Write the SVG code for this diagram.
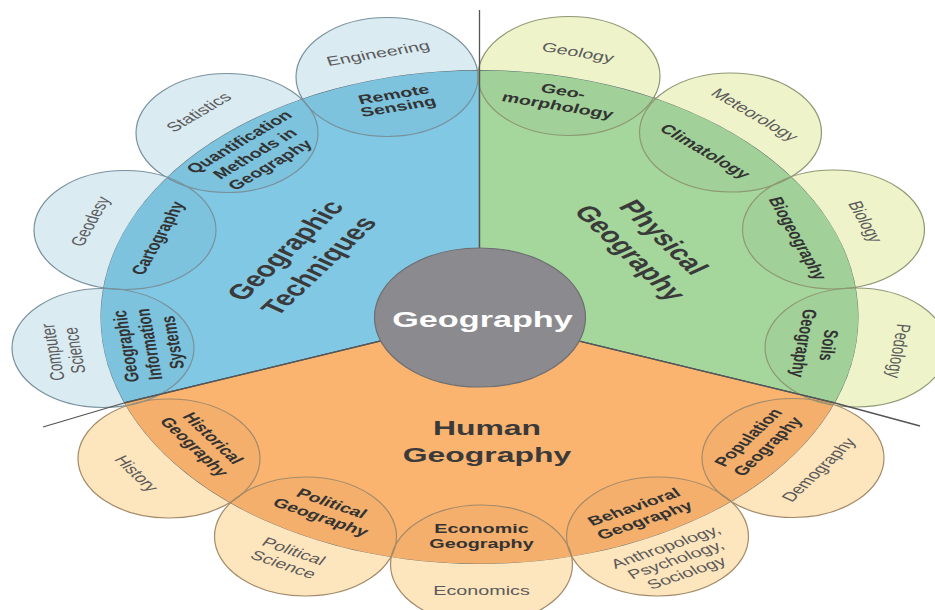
<svg xmlns="http://www.w3.org/2000/svg" width="935" height="610" viewBox="0 0 935 610">
<style>
text{font-family:"Liberation Sans",Arial,sans-serif;text-anchor:middle}
.b{font-size:13px;font-weight:bold;fill:#333}
.o{font-size:13px;fill:#5a5a5a}
.t{font-size:21px;font-weight:bold;fill:#3a3a3a}
.c{font-size:22.5px;font-weight:bold;fill:#fff}
.pb{fill:#dbebf2}.pg{fill:#eef3c9}.po{fill:#fde5bd}
.ov{fill:#000;fill-opacity:0.022}
.sb{fill:none;stroke:#78919c;stroke-width:1.2}
.sg{fill:none;stroke:#8e9873;stroke-width:1.2}
.so{fill:none;stroke:#a38b6a;stroke-width:1.2}
.div{stroke:#555;stroke-width:1.3;fill:none}
</style>
<defs>
<clipPath id="inside"><ellipse cx="479.5" cy="317" rx="379" ry="247"/></clipPath>
<mask id="outside" maskUnits="userSpaceOnUse" x="0" y="0" width="935" height="610">
<rect x="0" y="0" width="935" height="610" fill="#fff"/>
<ellipse cx="479.5" cy="317" rx="379" ry="247" fill="#000"/>
</mask>
</defs>
<rect width="935" height="610" fill="#fff"/>

<g id="sector-techniques">
<path d="M479.5,317 L479.5,70 A379,247 0 0,0 124,403 Z" fill="#81c8e4" stroke="#56666c" stroke-width="1.2"/>
<text class="t" transform="translate(304,259) scale(1.52,1) rotate(-55)"><tspan x="0" y="-8">Geographic</tspan><tspan x="0" y="19">Techniques</tspan></text>
</g>
<g id="sector-physical">
<path d="M479.5,317 L479.5,70 A379,247 0 0,1 835,403 Z" fill="#a5d79c" stroke="#56666c" stroke-width="1.2"/>
<text class="t" transform="translate(645,246) scale(1.52,1) rotate(55)"><tspan x="0" y="-8">Physical</tspan><tspan x="0" y="19">Geography</tspan></text>
</g>
<g id="sector-human">
<path d="M479.5,317 L124,403 A379,247 0 0,0 835,403 Z" fill="#fab46f" stroke="#56666c" stroke-width="1.2"/>
<text class="t" transform="translate(487,0) scale(1.52,1)"><tspan x="0" y="435">Human</tspan><tspan x="0" y="462">Geography</tspan></text>
</g>

<g id="n-remote-sensing">
<ellipse class="pb" cx="387" cy="77" rx="91" ry="59.5" mask="url(#outside)"/>
<ellipse class="ov" cx="387" cy="77" rx="91" ry="59.5" clip-path="url(#inside)"/>
<ellipse class="sb" cx="387" cy="77" rx="91" ry="59.5"/>
<g transform="translate(387,77) scale(1.52,1) rotate(-14)">
<text class="o" y="-20">Engineering</text>
<text class="b"><tspan x="0" y="22.5">Remote</tspan><tspan x="0" y="35">Sensing</tspan></text>
</g>
</g>
<g id="n-quantification">
<ellipse class="pb" cx="227" cy="133" rx="91" ry="59.5" mask="url(#outside)"/>
<ellipse class="ov" cx="227" cy="133" rx="91" ry="59.5" clip-path="url(#inside)"/>
<ellipse class="sb" cx="227" cy="133" rx="91" ry="59.5"/>
<g transform="translate(227,133) scale(1.52,1) rotate(-41.7)">
<text class="o" y="-23.5">Statistics</text>
<text class="b"><tspan x="0" y="16.5">Quantification</tspan><tspan x="0" y="32">Methods in</tspan><tspan x="0" y="47">Geography</tspan></text>
</g>
</g>
<g id="n-cartography">
<ellipse class="pb" cx="125" cy="230" rx="91" ry="59.5" mask="url(#outside)"/>
<ellipse class="ov" cx="125" cy="230" rx="91" ry="59.5" clip-path="url(#inside)"/>
<ellipse class="sb" cx="125" cy="230" rx="91" ry="59.5"/>
<g transform="translate(125,230) scale(1.52,1) rotate(-69.4)">
<text class="o" y="-20">Geodesy</text>
<text class="b" y="27.5">Cartography</text>
</g>
</g>
<g id="n-gis">
<ellipse class="pb" cx="103" cy="348" rx="91" ry="59.5" mask="url(#outside)"/>
<ellipse class="ov" cx="103" cy="348" rx="91" ry="59.5" clip-path="url(#inside)"/>
<ellipse class="sb" cx="103" cy="348" rx="91" ry="59.5"/>
<g transform="translate(103,348) scale(1.52,1) rotate(-97.1)">
<text class="o"><tspan x="0" y="-29">Computer</tspan><tspan x="0" y="-14.5">Science</tspan></text>
<text class="b"><tspan x="0" y="19.5">Geographic</tspan><tspan x="0" y="35">Information</tspan><tspan x="0" y="50.5">Systems</tspan></text>
</g>
</g>

<g id="n-geomorphology">
<ellipse class="pg" cx="569" cy="76" rx="91" ry="59.5" mask="url(#outside)"/>
<ellipse class="ov" cx="569" cy="76" rx="91" ry="59.5" clip-path="url(#inside)"/>
<ellipse class="sg" cx="569" cy="76" rx="91" ry="59.5"/>
<g transform="translate(569,76) scale(1.52,1) rotate(14)">
<text class="o" y="-20">Geology</text>
<text class="b"><tspan x="0" y="20">Geo-</tspan><tspan x="0" y="35">morphology</tspan></text>
</g>
</g>
<g id="n-climatology">
<ellipse class="pg" cx="730.5" cy="132.5" rx="91" ry="59.5" mask="url(#outside)"/>
<ellipse class="ov" cx="730.5" cy="132.5" rx="91" ry="59.5" clip-path="url(#inside)"/>
<ellipse class="sg" cx="730.5" cy="132.5" rx="91" ry="59.5"/>
<g transform="translate(730.5,132.5) scale(1.52,1) rotate(41.7)">
<text class="o" y="-19.5">Meteorology</text>
<text class="b" y="29.5">Climatology</text>
</g>
</g>
<g id="n-biogeography">
<ellipse class="pg" cx="833.5" cy="229.5" rx="91" ry="59.5" mask="url(#outside)"/>
<ellipse class="ov" cx="833.5" cy="229.5" rx="91" ry="59.5" clip-path="url(#inside)"/>
<ellipse class="sg" cx="833.5" cy="229.5" rx="91" ry="59.5"/>
<g transform="translate(833.5,229.5) scale(1.52,1) rotate(69.4)">
<text class="o" y="-18">Biology</text>
<text class="b" y="29.5">Biogeography</text>
</g>
</g>
<g id="n-soils">
<ellipse class="pg" cx="856" cy="347.5" rx="91" ry="59.5" mask="url(#outside)"/>
<ellipse class="ov" cx="856" cy="347.5" rx="91" ry="59.5" clip-path="url(#inside)"/>
<ellipse class="sg" cx="856" cy="347.5" rx="91" ry="59.5"/>
<g transform="translate(856,347.5) scale(1.52,1) rotate(97.1)">
<text class="o" y="-24">Pedology</text>
<text class="b"><tspan x="0" y="22.5">Soils</tspan><tspan x="0" y="39">Geography</tspan></text>
</g>
</g>

<g id="n-historical">
<ellipse class="po" cx="169" cy="458.5" rx="91" ry="59.5" mask="url(#outside)"/>
<ellipse class="ov" cx="169" cy="458.5" rx="91" ry="59.5" clip-path="url(#inside)"/>
<ellipse class="so" cx="169" cy="458.5" rx="91" ry="59.5"/>
<g transform="translate(169,458.5) scale(1.52,1) rotate(55)">
<text class="b"><tspan x="0" y="-31">Historical</tspan><tspan x="0" y="-16">Geography</tspan></text>
<text class="o" y="30.5">History</text>
</g>
</g>
<g id="n-political">
<ellipse class="po" cx="305.5" cy="536.5" rx="91" ry="59.5" mask="url(#outside)"/>
<ellipse class="ov" cx="305.5" cy="536.5" rx="91" ry="59.5" clip-path="url(#inside)"/>
<ellipse class="so" cx="305.5" cy="536.5" rx="91" ry="59.5"/>
<g transform="translate(305.5,536.5) scale(1.52,1) rotate(27.5)">
<text class="b"><tspan x="0" y="-33">Political</tspan><tspan x="0" y="-17.5">Geography</tspan></text>
<text class="o"><tspan x="0" y="21">Political</tspan><tspan x="0" y="36">Science</tspan></text>
</g>
</g>
<g id="n-economic">
<ellipse class="po" cx="481.5" cy="564.5" rx="91" ry="59.5" mask="url(#outside)"/>
<ellipse class="ov" cx="481.5" cy="564.5" rx="91" ry="59.5" clip-path="url(#inside)"/>
<ellipse class="so" cx="481.5" cy="564.5" rx="91" ry="59.5"/>
<g transform="translate(481.5,564.5) scale(1.52,1)">
<text class="b"><tspan x="0" y="-31.5">Economic</tspan><tspan x="0" y="-16.5">Geography</tspan></text>
<text class="o" y="30.5">Economics</text>
</g>
</g>
<g id="n-behavioral">
<ellipse class="po" cx="657.5" cy="536.5" rx="91" ry="59.5" mask="url(#outside)"/>
<ellipse class="ov" cx="657.5" cy="536.5" rx="91" ry="59.5" clip-path="url(#inside)"/>
<ellipse class="so" cx="657.5" cy="536.5" rx="91" ry="59.5"/>
<g transform="translate(657.5,536.5) scale(1.52,1) rotate(-27.5)">
<text class="b"><tspan x="0" y="-29">Behavioral</tspan><tspan x="0" y="-14">Geography</tspan></text>
<text class="o"><tspan x="0" y="16">Anthropology,</tspan><tspan x="0" y="30.5">Psychology,</tspan><tspan x="0" y="45.5">Sociology</tspan></text>
</g>
</g>
<g id="n-population">
<ellipse class="po" cx="793" cy="458" rx="91" ry="59.5" mask="url(#outside)"/>
<ellipse class="ov" cx="793" cy="458" rx="91" ry="59.5" clip-path="url(#inside)"/>
<ellipse class="so" cx="793" cy="458" rx="91" ry="59.5"/>
<g transform="translate(793,458) scale(1.52,1) rotate(-55)">
<text class="b"><tspan x="0" y="-31.5">Population</tspan><tspan x="0" y="-16">Geography</tspan></text>
<text class="o" y="25">Demography</text>
</g>
</g>

<g id="connectors">
<line class="div" x1="479.5" y1="10" x2="479.5" y2="317"/>
<line class="div" x1="479.5" y1="317" x2="124" y2="403"/>
<line class="div" x1="124" y1="403" x2="43" y2="427"/>
<line class="div" x1="479.5" y1="317" x2="835" y2="403"/>
<line class="div" x1="835" y1="403" x2="920" y2="426"/>
</g>

<g id="n-geography">
<ellipse cx="480" cy="317.5" rx="105.5" ry="69.5" fill="#8b8b8f" stroke="#6e6e72" stroke-width="1.2"/>
<text class="c" transform="translate(482.5,327) scale(1.52,1)" x="0" y="0">Geography</text>
</g>
</svg>
